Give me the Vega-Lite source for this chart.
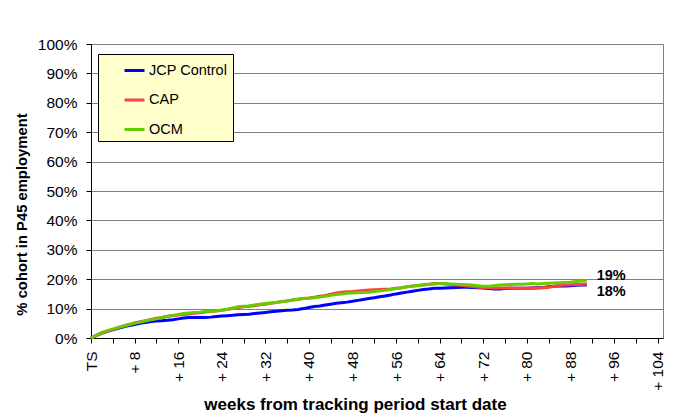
{
  "$schema": "https://vega.github.io/schema/vega-lite/v6.json",
  "width": 572,
  "height": 294,
  "autosize": {"type": "none"},
  "padding": {"left": 91, "top": 44, "right": 10, "bottom": 81},
  "background": "white",
  "config": {
    "font": "Liberation Sans",
    "view": {"stroke": "#808080", "strokeWidth": 1}
  },
  "datasets": {
    "series": [
      {"w":0,"JCP Control":0,"CAP":0,"OCM":0},
      {"w":1,"JCP Control":0.9,"CAP":0.8,"OCM":1.0},
      {"w":2,"JCP Control":1.7,"CAP":1.6,"OCM":1.8},
      {"w":3,"JCP Control":2.3,"CAP":2.3,"OCM":2.5},
      {"w":4,"JCP Control":2.8,"CAP":2.9,"OCM":3.0},
      {"w":5,"JCP Control":3.3,"CAP":3.5,"OCM":3.6},
      {"w":6,"JCP Control":3.8,"CAP":4.1,"OCM":4.1},
      {"w":7,"JCP Control":4.2,"CAP":4.6,"OCM":4.6},
      {"w":8,"JCP Control":4.6,"CAP":5.1,"OCM":5.0},
      {"w":9,"JCP Control":5.0,"CAP":5.5,"OCM":5.4},
      {"w":10,"JCP Control":5.3,"CAP":5.9,"OCM":5.8},
      {"w":11,"JCP Control":5.6,"CAP":6.3,"OCM":6.2},
      {"w":12,"JCP Control":5.8,"CAP":6.7,"OCM":6.5},
      {"w":13,"JCP Control":5.9,"CAP":7.0,"OCM":6.9},
      {"w":14,"JCP Control":6.0,"CAP":7.4,"OCM":7.3},
      {"w":15,"JCP Control":6.2,"CAP":7.6,"OCM":7.7},
      {"w":16,"JCP Control":6.5,"CAP":7.8,"OCM":8.0},
      {"w":17,"JCP Control":6.8,"CAP":8.0,"OCM":8.3},
      {"w":18,"JCP Control":7.0,"CAP":8.2,"OCM":8.5},
      {"w":19,"JCP Control":7.0,"CAP":8.4,"OCM":8.7},
      {"w":20,"JCP Control":7.0,"CAP":8.6,"OCM":8.8},
      {"w":21,"JCP Control":7.0,"CAP":8.8,"OCM":9.0},
      {"w":22,"JCP Control":7.1,"CAP":9.0,"OCM":9.1},
      {"w":23,"JCP Control":7.3,"CAP":9.2,"OCM":9.3},
      {"w":24,"JCP Control":7.5,"CAP":9.4,"OCM":9.5},
      {"w":25,"JCP Control":7.6,"CAP":9.7,"OCM":9.8},
      {"w":26,"JCP Control":7.7,"CAP":10.0,"OCM":10.2},
      {"w":27,"JCP Control":7.9,"CAP":10.3,"OCM":10.6},
      {"w":28,"JCP Control":8.0,"CAP":10.6,"OCM":10.8},
      {"w":29,"JCP Control":8.1,"CAP":10.8,"OCM":10.9},
      {"w":30,"JCP Control":8.3,"CAP":11.0,"OCM":11.2},
      {"w":31,"JCP Control":8.5,"CAP":11.3,"OCM":11.5},
      {"w":32,"JCP Control":8.7,"CAP":11.5,"OCM":11.7},
      {"w":33,"JCP Control":8.9,"CAP":11.8,"OCM":11.9},
      {"w":34,"JCP Control":9.1,"CAP":12.1,"OCM":12.1},
      {"w":35,"JCP Control":9.3,"CAP":12.4,"OCM":12.3},
      {"w":36,"JCP Control":9.4,"CAP":12.6,"OCM":12.6},
      {"w":37,"JCP Control":9.5,"CAP":12.9,"OCM":12.9},
      {"w":38,"JCP Control":9.7,"CAP":13.2,"OCM":13.2},
      {"w":39,"JCP Control":10.0,"CAP":13.4,"OCM":13.4},
      {"w":40,"JCP Control":10.4,"CAP":13.6,"OCM":13.5},
      {"w":41,"JCP Control":10.7,"CAP":13.9,"OCM":13.7},
      {"w":42,"JCP Control":10.9,"CAP":14.2,"OCM":13.9},
      {"w":43,"JCP Control":11.2,"CAP":14.5,"OCM":14.2},
      {"w":44,"JCP Control":11.5,"CAP":14.9,"OCM":14.5},
      {"w":45,"JCP Control":11.8,"CAP":15.3,"OCM":14.8},
      {"w":46,"JCP Control":12.0,"CAP":15.6,"OCM":15.0},
      {"w":47,"JCP Control":12.2,"CAP":15.7,"OCM":15.2},
      {"w":48,"JCP Control":12.5,"CAP":15.8,"OCM":15.3},
      {"w":49,"JCP Control":12.8,"CAP":16.0,"OCM":15.4},
      {"w":50,"JCP Control":13.1,"CAP":16.2,"OCM":15.5},
      {"w":51,"JCP Control":13.4,"CAP":16.3,"OCM":15.6},
      {"w":52,"JCP Control":13.7,"CAP":16.4,"OCM":15.8},
      {"w":53,"JCP Control":14.0,"CAP":16.5,"OCM":16.0},
      {"w":54,"JCP Control":14.3,"CAP":16.6,"OCM":16.2},
      {"w":55,"JCP Control":14.6,"CAP":16.7,"OCM":16.5},
      {"w":56,"JCP Control":15.0,"CAP":16.9,"OCM":16.8},
      {"w":57,"JCP Control":15.3,"CAP":17.1,"OCM":17.1},
      {"w":58,"JCP Control":15.6,"CAP":17.4,"OCM":17.4},
      {"w":59,"JCP Control":15.9,"CAP":17.7,"OCM":17.6},
      {"w":60,"JCP Control":16.2,"CAP":17.9,"OCM":17.8},
      {"w":61,"JCP Control":16.5,"CAP":18.1,"OCM":18.0},
      {"w":62,"JCP Control":16.7,"CAP":18.3,"OCM":18.2},
      {"w":63,"JCP Control":16.9,"CAP":18.5,"OCM":18.4},
      {"w":64,"JCP Control":16.9,"CAP":18.5,"OCM":18.5},
      {"w":65,"JCP Control":17.0,"CAP":18.4,"OCM":18.5},
      {"w":66,"JCP Control":17.1,"CAP":18.2,"OCM":18.4},
      {"w":67,"JCP Control":17.2,"CAP":18.0,"OCM":18.3},
      {"w":68,"JCP Control":17.3,"CAP":17.9,"OCM":18.2},
      {"w":69,"JCP Control":17.3,"CAP":17.7,"OCM":18.1},
      {"w":70,"JCP Control":17.2,"CAP":17.5,"OCM":18.0},
      {"w":71,"JCP Control":17.1,"CAP":17.3,"OCM":17.8},
      {"w":72,"JCP Control":17.0,"CAP":17.2,"OCM":17.6},
      {"w":73,"JCP Control":16.8,"CAP":17.1,"OCM":17.6},
      {"w":74,"JCP Control":16.7,"CAP":17.0,"OCM":17.8},
      {"w":75,"JCP Control":16.7,"CAP":17.0,"OCM":18.0},
      {"w":76,"JCP Control":16.8,"CAP":17.0,"OCM":18.1},
      {"w":77,"JCP Control":16.9,"CAP":17.0,"OCM":18.2},
      {"w":78,"JCP Control":16.9,"CAP":16.9,"OCM":18.3},
      {"w":79,"JCP Control":16.9,"CAP":16.9,"OCM":18.3},
      {"w":80,"JCP Control":16.9,"CAP":16.9,"OCM":18.4},
      {"w":81,"JCP Control":17.0,"CAP":17.0,"OCM":18.5},
      {"w":82,"JCP Control":17.1,"CAP":17.0,"OCM":18.4},
      {"w":83,"JCP Control":17.2,"CAP":17.1,"OCM":18.5},
      {"w":84,"JCP Control":17.4,"CAP":17.3,"OCM":18.6},
      {"w":85,"JCP Control":17.6,"CAP":17.6,"OCM":18.7},
      {"w":86,"JCP Control":17.7,"CAP":17.9,"OCM":18.8},
      {"w":87,"JCP Control":17.7,"CAP":18.0,"OCM":18.9},
      {"w":88,"JCP Control":17.8,"CAP":18.1,"OCM":19.0},
      {"w":89,"JCP Control":17.9,"CAP":18.2,"OCM":19.2},
      {"w":90,"JCP Control":18.0,"CAP":18.3,"OCM":19.4},
      {"w":91,"JCP Control":18.0,"CAP":18.4,"OCM":19.5}
    ],
    "endlabels": [
      {"w":91,"v":19.5,"label":"19%","pos":"upper"},
      {"w":91,"v":18.0,"label":"18%","pos":"lower"}
    ]
  },
  "encoding": {
    "x": {
      "field": "w", "type": "quantitative",
      "scale": {"domain": [0,105], "nice": false, "zero": false},
      "axis": {
        "title": "weeks from tracking period start date",
        "titleFontSize": 17, "titleFontWeight": "bold", "titleColor": "black",
        "titleX": 264, "titleY": 66, "titleBaseline": "middle",
        "values": [0,4,8,12,16,20,24,28,32,36,40,44,48,52,56,60,64,68,72,76,80,84,88,92,96,100,104],
        "labelExpr": "datum.value == 0 ? 'TS' : (datum.value % 8 == 0 ? '+ ' + datum.value : '')",
        "labelAngle": 270, "labelFontSize": 15.5, "labelColor": "black", "labelPadding": 8,
        "labelOverlap": false, "labelFlush": false,
        "grid": false, "tickSize": 5, "tickColor": "black", "domainColor": "black"
      }
    },
    "y": {
      "field": "v", "type": "quantitative",
      "scale": {"domain": [0,100], "nice": false},
      "axis": {
        "title": "% cohort in P45 employment",
        "titleFontSize": 14.8, "titleFontWeight": "bold", "titleColor": "black",
        "titleX": -69, "titleY": 170, "titleBaseline": "middle", "titleAngle": 270,
        "values": [0,10,20,30,40,50,60,70,80,90,100],
        "tickCount": 11,
        "labelExpr": "datum.value + '%'",
        "labelOverlap": false,
        "labelFontSize": 15.5, "labelColor": "black", "labelPadding": 9,
        "grid": true, "gridColor": "#808080", "gridWidth": 1,
        "tickSize": 5, "tickColor": "black", "domainColor": "black"
      }
    }
  },
  "layer": [
    {
      "data": {"name": "series"},
      "transform": [{"fold": ["JCP Control","CAP","OCM"], "as": ["series","v"]}],
      "mark": {"type": "line", "strokeWidth": 3, "interpolate": "linear"},
      "encoding": {
        "color": {
          "field": "series", "type": "nominal",
          "scale": {"domain": ["JCP Control","CAP","OCM"], "range": ["#0000FF","#FF4040","#66CC00"]},
          "legend": {
            "title": null, "orient": "none", "legendX": 7, "legendY": 10,
            "fillColor": "#FFFFCC", "strokeColor": "black", "padding": 5,
            "symbolType": "stroke", "symbolSize": 400, "symbolStrokeWidth": 3,
            "symbolOffset": 20, "labelOffset": 3,
            "labelFontSize": 14.5, "labelColor": "black", "rowPadding": 11.5
          }
        }
      }
    },
    {
      "data": {"name": "endlabels"},
      "transform": [{"filter": "datum.pos == 'upper'"}],
      "mark": {"type": "text", "align": "left", "baseline": "bottom", "dx": 10, "dy": 2, "fontSize": 14.5, "fontWeight": "bold", "color": "black"},
      "encoding": {
        "text": {"field": "label"}
      }
    },
    {
      "data": {"name": "endlabels"},
      "transform": [{"filter": "datum.pos == 'lower'"}],
      "mark": {"type": "text", "align": "left", "baseline": "top", "dx": 10, "dy": 0, "fontSize": 14.5, "fontWeight": "bold", "color": "black"},
      "encoding": {
        "text": {"field": "label"}
      }
    }
  ]
}
